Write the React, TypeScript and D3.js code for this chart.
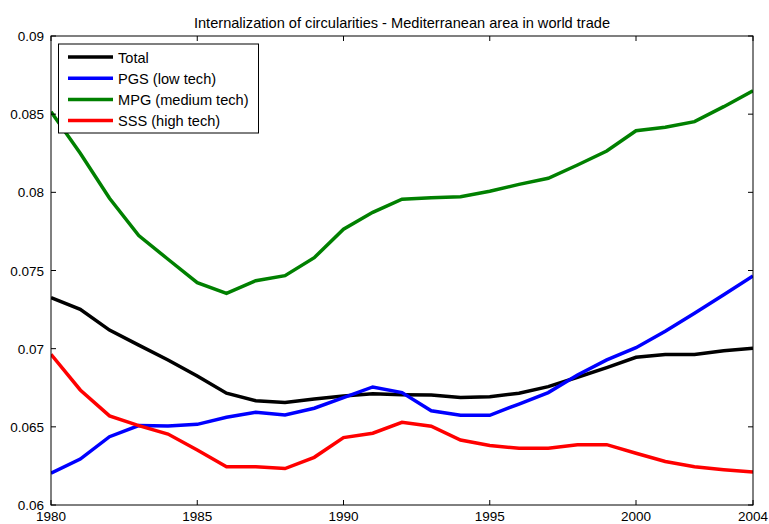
import React from "react";
import * as d3 from "d3";

const years = d3.range(1980, 2005);
const total = [0.07326, 0.07252, 0.07119, 0.07023, 0.06928, 0.06825, 0.06715, 0.06667, 0.06655, 0.06678, 0.06697, 0.06712, 0.06706, 0.06704, 0.06687, 0.06693, 0.06715, 0.06757, 0.06817, 0.06879, 0.06945, 0.06962, 0.06962, 0.06987, 0.07002];
const pgs = [0.06203, 0.06294, 0.06437, 0.06508, 0.06505, 0.06516, 0.06561, 0.06593, 0.06576, 0.06619, 0.06687, 0.06755, 0.06719, 0.06603, 0.06574, 0.06574, 0.06646, 0.06719, 0.06832, 0.06928, 0.07006, 0.07111, 0.07226, 0.07345, 0.07465];
const mpg = [0.08516, 0.0825, 0.07962, 0.07723, 0.07572, 0.07422, 0.07354, 0.07435, 0.07467, 0.07582, 0.07764, 0.07872, 0.07956, 0.07966, 0.07972, 0.08007, 0.08051, 0.0809, 0.08175, 0.08264, 0.08394, 0.08416, 0.08452, 0.08548, 0.0865];
const sss = [0.06964, 0.06736, 0.0657, 0.06508, 0.06454, 0.06352, 0.06245, 0.06245, 0.06233, 0.06305, 0.06431, 0.06459, 0.06529, 0.06504, 0.06416, 0.0638, 0.06363, 0.06363, 0.06386, 0.06386, 0.06331, 0.06278, 0.06245, 0.06226, 0.06211];

const seriesNames = ["Total", "PGS (low tech)", "MPG (medium tech)", "SSS (high tech)"];
const seriesColors = ["#000000", "#0000ff", "#008000", "#ff0000"];
const seriesData = [total, pgs, mpg, sss];

const xTicks = [1980, 1985, 1990, 1995, 2000, 2004];
const yTicks = [0.06, 0.065, 0.07, 0.075, 0.08, 0.085, 0.09];
const yTickLabels = ["0.06", "0.065", "0.07", "0.075", "0.08", "0.085", "0.09"];
const title = "Internalization of circularities - Mediterranean area in world trade";

const W = 769, H = 524;
const L = 51, R = 753, T = 36, B = 505;

export default function App() {
  const x = d3.scaleLinear().domain([1980, 2004]).range([L, R]);
  const y = d3.scaleLinear().domain([0.06, 0.09]).range([B, T]);
  const line = d3.line<number>().x((_, i) => x(years[i])).y((d) => y(d));
  const font = "'Liberation Sans', Arial, sans-serif";
  const tk = 5;
  return (
    <svg width={W} height={H} style={{ position: "absolute", left: 0, top: 0 }} fontFamily={font}>
      <rect x={0} y={0} width={W} height={H} fill="#fff" />
      <text x={(L + R) / 2} y={28} textAnchor="middle" fontSize={14.6}>{title}</text>
      <defs>
        <clipPath id="pc"><rect x={L} y={T} width={R - L} height={B - T} /></clipPath>
      </defs>
      <g clipPath="url(#pc)">
        {seriesData.map((s, i) => (
          <path key={i} d={line(s) || ""} fill="none" stroke={seriesColors[i]} strokeWidth={3.5} strokeLinejoin="miter" />
        ))}
      </g>
      <rect x={L} y={T} width={R - L} height={B - T} fill="none" stroke="#000" strokeWidth={1} />
      {xTicks.map((t) => (
        <g key={t}>
          <line x1={x(t)} x2={x(t)} y1={B} y2={B - tk} stroke="#000" />
          <line x1={x(t)} x2={x(t)} y1={T} y2={T + tk} stroke="#000" />
          <text x={x(t)} y={520.5} textAnchor="middle" fontSize={13.5}>{t}</text>
        </g>
      ))}
      {yTicks.map((t, i) => (
        <g key={t}>
          <line x1={L} x2={L + tk} y1={y(t)} y2={y(t)} stroke="#000" />
          <line x1={R} x2={R - tk} y1={y(t)} y2={y(t)} stroke="#000" />
          <text x={L - 7} y={y(t) + 5} textAnchor="end" fontSize={13.5}>{yTickLabels[i]}</text>
        </g>
      ))}
      <g>
        <rect x={58.5} y={44} width={200} height={89} fill="#fff" stroke="#000" strokeWidth={1} />
        {seriesNames.map((n, i) => (
          <g key={n}>
            <line x1={68} x2={113} y1={57 + i * 21.2} y2={57 + i * 21.2} stroke={seriesColors[i]} strokeWidth={3.5} />
            <text x={118} y={57 + i * 21.2 + 5.5} fontSize={14.6}>{n}</text>
          </g>
        ))}
      </g>
    </svg>
  );
}
